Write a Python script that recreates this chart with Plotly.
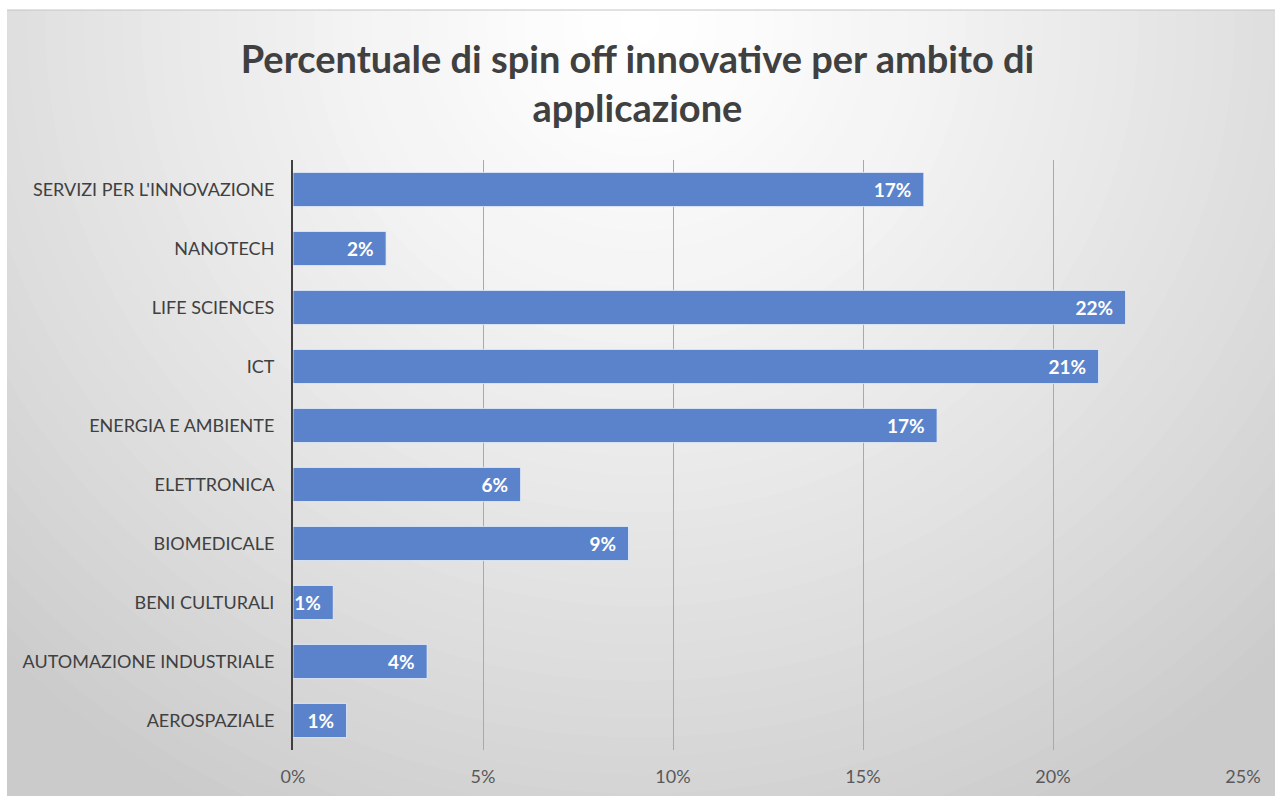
import plotly.graph_objects as go

# Application areas (bottom to top) and share of innovative spin-offs
categories = [
    "AEROSPAZIALE",
    "AUTOMAZIONE INDUSTRIALE",
    "BENI CULTURALI",
    "BIOMEDICALE",
    "ELETTRONICA",
    "ENERGIA E AMBIENTE",
    "ICT",
    "LIFE SCIENCES",
    "NANOTECH",
    "SERVIZI PER L'INNOVAZIONE",
]
shares = [0.0141, 0.0353, 0.0106, 0.0883, 0.0599, 0.1695, 0.2120, 0.2191, 0.0245, 0.1660]

x_ticks = [0, 0.05, 0.10, 0.15, 0.20, 0.25]

W, H = 1275, 796
FONT = "Lato"

fig = go.Figure()

fig.add_trace(
    go.Bar(
        x=shares,
        y=categories,
        orientation="h",
        marker=dict(color="#5b83cc", line=dict(color="rgba(235,242,252,0.8)", width=1)),
        texttemplate="%{x:.0%}\u2002",
        textposition="inside",
        insidetextanchor="end",
        textfont=dict(family=FONT, size=19, color="white", weight="bold"),
        cliponaxis=False,
        hoverinfo="skip",
    )
)

# Soft radial background: light at the top centre, grey towards the edges
shapes = []
px = lambda v: v / W
py = lambda v: 1 - v / H
shapes.append(dict(type="rect", xref="paper", yref="paper", layer="below",
                   x0=px(7), x1=px(W + 5), y0=py(H + 5), y1=py(10),
                   fillcolor="#cbcbcb", line=dict(width=0)))
cx, cy = 640, 25
rx_max, ry_max = 920, 900
steps = 48
for i in range(steps):
    t = 1 - i / steps
    level = int(round(255 - 52 * t ** 1.3))
    rx, ry = rx_max * t, ry_max * t
    shapes.append(dict(type="circle", xref="paper", yref="paper", layer="below",
                       x0=px(cx - rx), x1=px(cx + rx), y0=py(cy + ry), y1=py(cy - ry),
                       fillcolor=f"rgb({level},{level},{level})", line=dict(width=0)))
# white frame strips on the top and left edges
shapes.append(dict(type="rect", xref="paper", yref="paper", layer="below",
                   x0=px(-40), x1=px(W + 40), y0=py(10), y1=py(-40),
                   fillcolor="white", line=dict(width=0)))
shapes.append(dict(type="rect", xref="paper", yref="paper", layer="below",
                   x0=px(-40), x1=px(7), y0=py(H + 40), y1=py(-40),
                   fillcolor="white", line=dict(width=0)))
shapes.append(dict(type="line", xref="paper", yref="paper", layer="below",
                   x0=px(7), x1=px(W + 40), y0=py(10), y1=py(10),
                   line=dict(color="#c4c4c4", width=1)))

fig.update_layout(
    width=W,
    height=H,
    autosize=False,
    margin=dict(l=0, r=0, t=0, b=0, pad=0, autoexpand=False),
    paper_bgcolor="white",
    plot_bgcolor="rgba(0,0,0,0)",
    showlegend=False,
    bargap=0.42,
    shapes=shapes,
    uniformtext=dict(minsize=19, mode="show"),
    title=dict(
        text="Percentuale di spin off innovative per ambito di<br>applicazione",
        x=0.5,
        xanchor="center",
        y=1 - 73 / H,
        yanchor="middle",
        yref="container",
        font=dict(family=FONT, size=38, color="#404040", weight="bold"),
    ),
    xaxis=dict(
        domain=[293 / W, 1243 / W],
        range=[0, 0.25],
        tickvals=x_ticks,
        tickformat=".0%",
        showgrid=True,
        gridcolor="#a9a9a9",
        gridwidth=1,
        zeroline=False,
        showline=False,
        ticks="",
        ticklabelstandoff=14,
        tickfont=dict(family=FONT, size=18, color="#595959"),
        automargin=False,
        fixedrange=True,
    ),
    yaxis=dict(
        domain=[1 - 750 / H, 1 - 160 / H],
        categoryorder="array",
        categoryarray=categories,
        showgrid=False,
        zeroline=False,
        showline=True,
        linecolor="#404040",
        linewidth=2,
        ticks="",
        ticklabelstandoff=13,
        tickfont=dict(family=FONT, size=18, color="#404040"),
        automargin=False,
        fixedrange=True,
    ),
)

fig.write_html("out.html", config={"responsive": False})
